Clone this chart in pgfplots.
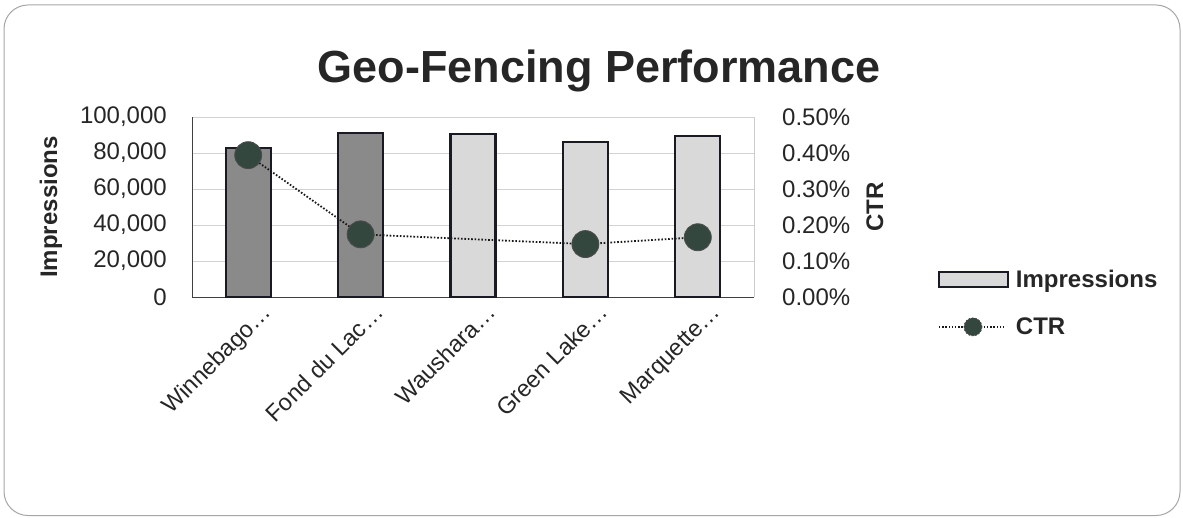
\documentclass[border=0pt]{standalone}
\usepackage{pgfplots}
\pgfplotsset{compat=1.18}
\usepackage{fontspec}
\setmainfont{Liberation Sans}
\definecolor{darkbar}{HTML}{8A8A8A}
\definecolor{lightbar}{HTML}{D9D9D9}
\definecolor{barborder}{HTML}{1A1A24}
\definecolor{mk}{HTML}{34473F}
\begin{document}
\begin{tikzpicture}
\useasboundingbox (0pt,0pt) rectangle (1183pt,517pt);
\draw[gray!70, line width=1pt, rounded corners=24pt] (4pt,1.5pt) rectangle (1180pt,512pt);
\node[font=\fontsize{45}{52}\selectfont\bfseries, text=black!85, anchor=base, inner sep=0pt] at (599pt,434pt) {Geo-Fencing Performance};
\begin{axis}[
  at={(192pt,220pt)}, anchor=south west,
  width=562pt, height=180pt, scale only axis,
  xmin=-0.5, xmax=4.5, ymin=0, ymax=100000,
  axis x line*=bottom, axis y line*=left,
  axis line style={black!75, line width=1pt},
  major tick length=0pt,
  ymajorgrids, grid style={gray!35, line width=0.8pt},
  xtick={0,1,2,3,4},
  xticklabels={Winnebago…,Fond du Lac…,Waushara…,Green Lake…,Marquette…},
  xticklabel style={rotate=45, anchor=north east, inner sep=0pt, xshift=5pt, yshift=-12pt, font=\fontsize{23.5}{27}\selectfont, text=black!85},
  ytick={0,20000,40000,60000,80000,100000},
  yticklabels={0,{20,000},{40,000},{60,000},{80,000},{100,000}},
  scaled y ticks=false,
  yticklabel style={font=\fontsize{24}{28}\selectfont, text=black!85, anchor=east, inner sep=0pt, xshift=-25pt},
  ylabel={Impressions},
  ylabel style={font=\fontsize{24}{28}\selectfont\bfseries, text=black!85, at={(axis description cs:-0.251,0.5)}, anchor=center},
]
\addplot[ybar, bar shift=0pt, bar width=45pt, fill=darkbar, draw=barborder, line width=2.2pt]
  coordinates {(0,82900) (1,90900)};
\addplot[ybar, bar shift=0pt, bar width=45pt, fill=lightbar, draw=barborder, line width=2.2pt]
  coordinates {(2,90400) (3,85900) (4,89400)};
\end{axis}
\begin{axis}[
  at={(192pt,220pt)}, anchor=south west,
  width=562pt, height=180pt, scale only axis,
  xmin=-0.5, xmax=4.5, ymin=0, ymax=0.5,
  axis x line=none, axis y line*=right,
  axis line style={gray!40, line width=0.8pt},
  major tick length=0pt,
  ytick={0,0.1,0.2,0.3,0.4,0.5},
  yticklabels={0.00\%,0.10\%,0.20\%,0.30\%,0.40\%,0.50\%},
  yticklabel style={font=\fontsize{24}{28}\selectfont, text=black!85, anchor=west, inner sep=0pt, xshift=28pt},
  ylabel={CTR},
  ylabel style={font=\fontsize{24}{28}\selectfont\bfseries, text=black!85, at={(axis description cs:1.215,0.5)}, anchor=center},
  legend style={at={(axis description cs:1.327,-0.033)}, anchor=west, draw=none, fill=none,
    inner sep=0pt, row sep=25pt, column sep=5pt, font=\fontsize{24}{28}\selectfont\bfseries,
    nodes={inner sep=2pt, text=black!85}},
  legend cell align=left,
]
\addlegendimage{legend image code/.code={\draw[fill=lightbar, draw=barborder, line width=2pt] (0pt,-7.5pt) rectangle (69pt,7.5pt);}}
\addlegendentry{Impressions}
\addplot[black!90, line width=1.8pt, dash pattern=on 1.6pt off 1.8pt,
  mark=*, mark size=13.5pt, mark options={solid, fill=mk, draw=black!70, line width=0.8pt},
  legend image code/.code={
    \draw[black!90, line width=1.6pt, dash pattern=on 1.5pt off 1.7pt] (0pt,0pt) -- (66pt,0pt);
    \fill[mk, draw=black!70, line width=0.8pt] (34pt,0pt) circle (9pt);}]
  coordinates {(0,0.394) (1,0.174) (3,0.147) (4,0.166)};
\addlegendentry{CTR}
\end{axis}
\end{tikzpicture}
\end{document}
